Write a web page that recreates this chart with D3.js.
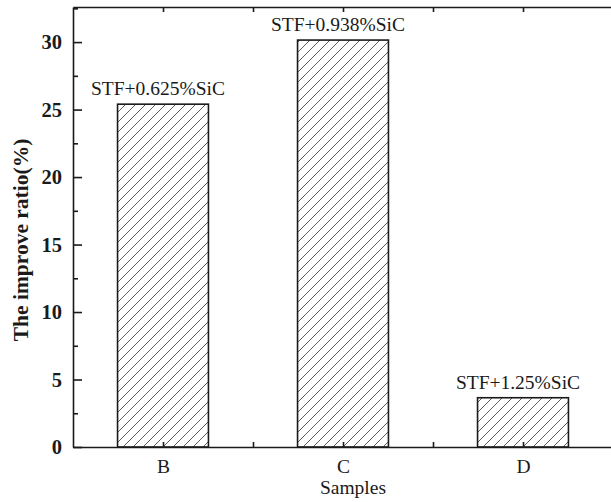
<!DOCTYPE html>
<html>
<head>
<meta charset="utf-8">
<script src="https://cdn.jsdelivr.net/npm/d3@7"></script>
<style>
  body { margin: 0; background: #fff; }
  text { font-family: "Liberation Serif", "Times New Roman", serif; fill: #1a1a1a; }
</style>
</head>
<body>
<svg width="611" height="502"></svg>
<script>
var samples = ["B", "C", "D"];
var ratios = [25.4, 30.15, 3.65];
var barLabels = ["STF+0.625%SiC", "STF+0.938%SiC", "STF+1.25%SiC"];
var yTicks = [0, 5, 10, 15, 20, 25, 30];

var svg = d3.select("svg"),
    margin = {top: 7, right: -2, bottom: 55, left: 73},
    width = +svg.attr("width") - margin.left - margin.right,
    height = +svg.attr("height") - margin.top - margin.bottom,
    g = svg.append("g").attr("transform", "translate(" + margin.left + "," + margin.top + ")");

// positions 1..3 for the samples, frame from 0.5 to 3.5
var x = d3.scaleLinear().domain([0.5, 3.5]).range([0, width]);
var y = d3.scaleLinear().domain([0, 32.6]).range([height, 0]);
var barW = (x(2) - x(1)) * 0.505;

// hatch pattern
var defs = svg.append("defs");
var pat = defs.append("pattern")
    .attr("id", "hatch")
    .attr("patternUnits", "userSpaceOnUse")
    .attr("width", 10).attr("height", 10);
pat.append("rect").attr("width", 10).attr("height", 10).attr("fill", "#fff");
pat.append("path")
    .attr("d", "M-2,12 L12,-2 M-2,2 L2,-2 M8,12 L12,8")
    .attr("stroke", "#333")
    .attr("stroke-width", 0.8);

g.selectAll(".bar")
  .data(ratios)
  .enter().append("rect")
    .attr("class", "bar")
    .attr("x", function(d, i) { return x(i + 1) - barW / 2; })
    .attr("y", function(d) { return y(d); })
    .attr("width", barW)
    .attr("height", function(d) { return y(0) - y(d); })
    .attr("fill", "url(#hatch)")
    .attr("stroke", "#1a1a1a")
    .attr("stroke-width", 1.6);

g.selectAll(".blabel")
  .data(ratios)
  .enter().append("text")
    .attr("class", "blabel")
    .attr("x", function(d, i) { return x(i + 1) - 5; })
    .attr("y", function(d) { return y(d) - 9; })
    .attr("text-anchor", "middle")
    .attr("font-size", 19.5)
    .text(function(d, i) { return barLabels[i]; });

// axes, ticks pointing inward
var xTickVals = [1, 1.5, 2, 2.5, 3];
var bottom = g.append("g")
    .attr("transform", "translate(0," + height + ")")
    .call(d3.axisBottom(x).tickValues(xTickVals).tickSizeInner(-5).tickSizeOuter(0)
      .tickPadding(12).tickFormat(function(d) { return d % 1 === 0 ? samples[d - 1] : ""; }));
bottom.selectAll("text").attr("font-size", 19.5).attr("font-family", "Liberation Serif").attr("fill", "#1a1a1a");

var top = g.append("g")
    .call(d3.axisTop(x).tickValues(xTickVals).tickSizeInner(-5).tickSizeOuter(0).tickFormat(""));

var yMinor = d3.range(2.5, 32.6, 5);
g.append("g")
    .call(d3.axisLeft(y).tickValues(yMinor).tickSizeInner(-5).tickSizeOuter(0).tickFormat(""))
    .select(".domain").remove();

var left = g.append("g")
    .call(d3.axisLeft(y).tickValues(yTicks).tickSizeInner(-9).tickSizeOuter(0).tickPadding(11));
left.selectAll("text").attr("font-size", 20.5).attr("font-weight", "bold")
    .attr("font-family", "Liberation Serif").attr("fill", "#1a1a1a");

g.selectAll(".domain, .tick line").attr("stroke", "#1a1a1a").attr("stroke-width", 1.6);

svg.append("text")
    .attr("x", margin.left + x(2) + 10)
    .attr("y", 494)
    .attr("text-anchor", "middle")
    .attr("font-size", 19.5)
    .text("Samples");

svg.append("text")
    .attr("transform", "translate(28,240) rotate(-90)")
    .attr("text-anchor", "middle")
    .attr("font-size", 21.5)
    .attr("font-weight", "bold")
    .text("The improve ratio(%)");
</script>
</body>
</html>
